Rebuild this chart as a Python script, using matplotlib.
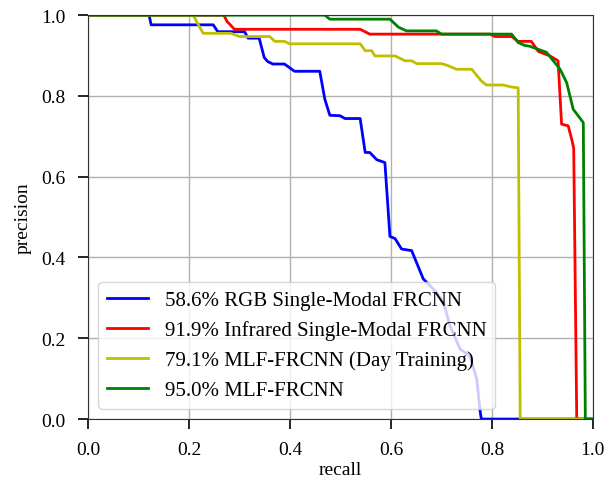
import matplotlib
matplotlib.use("Agg")
import matplotlib.pyplot as plt

plt.rcParams['font.family'] = ['Liberation Serif', 'DejaVu Serif']

labels = ["58.6% RGB Single-Modal FRCNN",
          "91.9% Infrared Single-Modal FRCNN",
          "79.1% MLF-FRCNN (Day Training)",
          "95.0% MLF-FRCNN"]

rgb_recall = [0, 0.121, 0.125, 0.248, 0.257, 0.31, 0.317, 0.339, 0.349, 0.356, 0.366,
              0.389, 0.409, 0.459, 0.469, 0.479, 0.499, 0.509, 0.539, 0.549, 0.558,
              0.572, 0.588, 0.598, 0.608, 0.621, 0.641, 0.664, 0.690, 0.704, 0.717,
              0.737, 0.756, 0.770, 0.776, 0.779, 1.0]
rgb_prec = [1.0, 1.0, 0.976, 0.976, 0.959, 0.959, 0.943, 0.943, 0.895, 0.885, 0.879,
            0.879, 0.861, 0.861, 0.792, 0.752, 0.751, 0.744, 0.744, 0.66, 0.66,
            0.642, 0.635, 0.452, 0.447, 0.421, 0.417, 0.347, 0.314, 0.289, 0.231,
            0.173, 0.157, 0.099, 0.025, 0.0, 0.0]

ir_recall = [0, 0.269, 0.275, 0.29, 0.539, 0.558, 0.796, 0.806, 0.839, 0.852, 0.878,
             0.892, 0.915, 0.931, 0.938, 0.951, 0.958, 0.962, 0.968, 1.0]
ir_prec = [1.0, 1.0, 0.985, 0.965, 0.965, 0.953, 0.953, 0.947, 0.947, 0.935, 0.935,
           0.910, 0.899, 0.887, 0.730, 0.726, 0.693, 0.67, 0.0, 0.0]

day_recall = [0, 0.208, 0.228, 0.283, 0.30, 0.36, 0.37, 0.389, 0.399, 0.539, 0.549,
              0.562, 0.568, 0.608, 0.628, 0.641, 0.651, 0.700, 0.713, 0.730, 0.760,
              0.779, 0.789, 0.822, 0.839, 0.852, 0.856, 1.0]
day_prec = [1.0, 1.0, 0.955, 0.955, 0.947, 0.947, 0.935, 0.935, 0.929, 0.929, 0.912,
            0.912, 0.899, 0.899, 0.887, 0.887, 0.880, 0.880, 0.875, 0.866, 0.866,
            0.837, 0.827, 0.827, 0.822, 0.820, 0.0, 0.0]

mlf_recall = [0, 0.469, 0.479, 0.598, 0.615, 0.631, 0.690, 0.700, 0.839, 0.852, 0.865,
              0.875, 0.908, 0.935, 0.948, 0.961, 0.981, 0.985, 1.0]
mlf_prec = [1.0, 1.0, 0.99, 0.99, 0.97, 0.961, 0.961, 0.953, 0.953, 0.932, 0.925,
            0.923, 0.908, 0.866, 0.833, 0.767, 0.734, 0.0, 0.0]

fig = plt.figure(figsize=(6.05, 4.89), dpi=100)
ax = fig.add_axes([0.1455, 0.141, 0.8345, 0.826])

ax.plot(rgb_recall, rgb_prec, color='b', lw=2, label=labels[0])
ax.plot(ir_recall, ir_prec, color='r', lw=2, label=labels[1])
ax.plot(day_recall, day_prec, color='y', lw=2, label=labels[2])
ax.plot(mlf_recall, mlf_prec, color='g', lw=2, label=labels[3])

ax.set_xlim(0, 1)
ax.set_ylim(0, 1)
ax.set_xticks([0, 0.2, 0.4, 0.6, 0.8, 1.0])
ax.set_yticks([0, 0.2, 0.4, 0.6, 0.8, 1.0])
ax.tick_params(labelsize=14, length=7, width=1.2, pad=9)
for s in ax.spines.values():
    s.set_color('#333333')
ax.grid(True, color='#b0b0b0', lw=1)
ax.set_xlabel('recall', fontsize=14, labelpad=2)
ax.set_ylabel('precision', fontsize=14, labelpad=7)
ax.legend(loc='lower left', fontsize=15, framealpha=0.8)

fig.savefig('out.png', dpi=100)
